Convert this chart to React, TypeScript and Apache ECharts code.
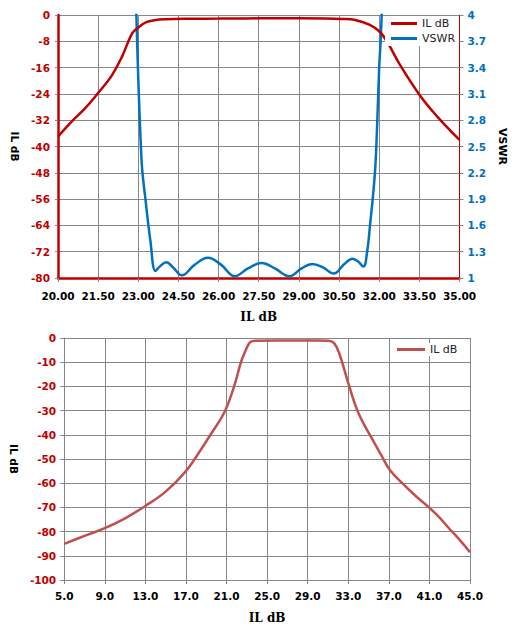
import React, { useEffect, useRef } from "react";
import * as echarts from "echarts";

// ---- Top chart data ----
const topFreq = [20.0, 20.5, 21.0, 21.5, 22.0, 22.4, 22.77, 23.0, 23.3, 23.6, 24.0, 25.0, 26.0, 27.0, 28.0, 29.0, 30.0, 30.6, 31.1, 31.65, 32.02, 32.3, 32.8, 33.55, 34.17, 35.0];
const topIL = [-37, -32.5, -28.5, -23.7, -18.5, -12.5, -5.6, -3.8, -2.2, -1.6, -1.3, -1.15, -1.1, -1.05, -1.0, -1.0, -1.05, -1.2, -1.5, -3.0, -5.1, -8.2, -15.5, -24.8, -30.9, -38];
const vswrFreq = [22.92, 23.12, 23.27, 23.45, 23.64, 23.8, 24.05, 24.3, 24.63, 25.1, 25.6, 26.1, 26.6, 27.1, 27.6, 28.1, 28.64, 29.1, 29.5, 29.9, 30.3, 30.7, 31.0, 31.2, 31.41, 31.55, 31.65, 31.84, 31.93, 32.0, 32.05, 32.1];
const vswrVal = [4.1, 2.35, 1.89, 1.43, 1.08, 1.13, 1.18, 1.12, 1.03, 1.15, 1.23, 1.15, 1.02, 1.11, 1.17, 1.11, 1.02, 1.11, 1.16, 1.12, 1.05, 1.16, 1.22, 1.19, 1.13, 1.3, 1.58, 2.2, 2.8, 3.41, 3.68, 4.05];

// ---- Bottom chart data ----
const bottomFreq = [5, 7, 9, 11, 13, 15, 17, 18.5, 19.4, 20.2, 20.9, 21.75, 22.45, 22.9, 23.2, 23.5, 24, 26, 28, 30, 31, 31.6, 32.1, 33.05, 34.0, 35.3, 36.2, 37.1, 38.5, 39.7, 40.9, 42.0, 42.9, 44.0, 45.0];
const bottomIL = [-85.1, -81.8, -78.6, -74.5, -69.4, -63.5, -55, -46, -40.1, -35, -29.8, -20, -9.7, -5.0, -2.4, -1.3, -1.1, -1.0, -1.0, -1.0, -1.1, -2.1, -6.2, -19.3, -31, -41.3, -48, -54.5, -60.7, -65.5, -69.8, -74.2, -78.5, -83.5, -88.5];

// ---- Axis settings ----
const topX = { min: 20, max: 35, step: 1.5 };
const topYLeft = { min: -80, max: 0, step: 8 };
const topYRight = { min: 1, max: 4, step: 0.3 };
const botX = { min: 5, max: 45, step: 4 };
const botY = { min: -100, max: 0, step: 10 };

const RED = "#c00000";
const BLUE = "#0070c0";
const BOT_RED = "#c0504d";
const GRID = "#868686";
const FONT = "DejaVu Sans";

export default function App() {
  const ref = useRef<HTMLDivElement>(null);
  useEffect(() => {
    if (!ref.current) return;
    const chart = echarts.init(ref.current, undefined, { renderer: "svg" });

    const labelX = { color: "#000", fontFamily: FONT, fontWeight: "bold" as const, fontSize: 10.5 };
    const nameStyleX = { color: "#000", fontFamily: "DejaVu Serif", fontWeight: "bold" as const, fontSize: 12 };
    const nameStyleY = { color: "#000", fontFamily: FONT, fontWeight: "bold" as const, fontSize: 10.5 };

    const option: any = {
      animation: false,
      backgroundColor: "#fff",
      grid: [
        { left: 58, top: 15, width: 408, height: 263 },
        { left: 57, top: 338, width: 413, height: 242 },
      ],
      legend: [
        {
          data: ["IL dB", "VSWR"],
          orient: "vertical",
          left: 385,
          top: 16,
          padding: [2, 4, 2, 6],
          itemGap: 4,
          itemWidth: 26,
          itemHeight: 3,
          icon: "rect",
          backgroundColor: "#fff",
          textStyle: { fontFamily: FONT, fontSize: 11, color: "#222" },
        },
        {
          data: ["IL dB (2)"],
          formatter: () => "IL dB",
          left: 394,
          top: 343,
          padding: [1, 3, 1, 3],
          itemWidth: 28,
          itemHeight: 3,
          icon: "rect",
          backgroundColor: "#fff",
          textStyle: { fontFamily: FONT, fontSize: 11, color: "#222" },
        },
      ],
      xAxis: [
        {
          type: "value",
          gridIndex: 0,
          min: 0,
          max: topX.max - topX.min,
          interval: topX.step,
          name: "IL dB",
          nameLocation: "middle",
          nameGap: 33,
          nameTextStyle: nameStyleX,
          axisLine: { show: true, onZero: false, lineStyle: { color: RED, width: 2.5 } },
          axisTick: { show: true, length: 4, lineStyle: { color: GRID } },
          axisLabel: { ...labelX, margin: 12, formatter: (v: number) => (v + topX.min).toFixed(2) },
          splitLine: { show: true, lineStyle: { color: GRID, width: 1 } },
        },
        {
          type: "value",
          gridIndex: 1,
          min: 0,
          max: botX.max - botX.min,
          interval: botX.step,
          name: "IL dB",
          nameLocation: "middle",
          nameGap: 32,
          nameTextStyle: nameStyleX,
          axisLine: { show: true, onZero: false, lineStyle: { color: GRID, width: 1 } },
          axisTick: { show: true, length: 4, lineStyle: { color: GRID } },
          axisLabel: { ...labelX, margin: 10, formatter: (v: number) => (v + botX.min).toFixed(1) },
          splitLine: { show: true, lineStyle: { color: GRID, width: 1 } },
        },
      ],
      yAxis: [
        {
          type: "value",
          gridIndex: 0,
          min: topYLeft.min,
          max: topYLeft.max,
          interval: topYLeft.step,
          name: "IL dB",
          nameLocation: "middle",
          nameGap: 31,
          nameRotate: -90,
          nameTextStyle: nameStyleY,
          axisLine: { show: true, onZero: false, lineStyle: { color: RED, width: 2.5 } },
          axisTick: { show: true, length: 3, lineStyle: { color: GRID } },
          axisLabel: { color: RED, fontFamily: FONT, fontWeight: "bold", fontSize: 10.5, margin: 8 },
          splitLine: { show: true, lineStyle: { color: GRID, width: 1 } },
        },
        {
          type: "value",
          gridIndex: 0,
          position: "right",
          min: 0,
          max: topYRight.max - topYRight.min,
          interval: topYRight.step,
          name: "VSWR",
          nameLocation: "middle",
          nameGap: 25,
          nameRotate: -90,
          nameTextStyle: { ...nameStyleY, fontSize: 11 },
          axisLine: { show: true, onZero: false, lineStyle: { color: RED, width: 1 } },
          axisTick: { show: true, length: 4, lineStyle: { color: GRID } },
          axisLabel: {
            color: BLUE,
            fontFamily: FONT,
            fontWeight: "bold",
            fontSize: 10.5,
            margin: 8,
            formatter: (v: number) => String(parseFloat((v + topYRight.min).toFixed(1))),
          },
          splitLine: { show: false },
        },
        {
          type: "value",
          gridIndex: 1,
          min: botY.min,
          max: botY.max,
          interval: botY.step,
          name: "IL dB",
          nameLocation: "middle",
          nameGap: 43,
          nameRotate: -90,
          nameTextStyle: nameStyleY,
          axisLine: { show: true, onZero: false, lineStyle: { color: GRID, width: 1 } },
          axisTick: { show: true, length: 4, lineStyle: { color: GRID } },
          axisLabel: { color: RED, fontFamily: FONT, fontWeight: "bold", fontSize: 10.5, margin: 8 },
          splitLine: { show: true, lineStyle: { color: GRID, width: 1 } },
        },
      ],
      series: [
        {
          name: "IL dB",
          type: "line",
          xAxisIndex: 0,
          yAxisIndex: 0,
          data: topFreq.map((f, i) => [f - topX.min, topIL[i]]),
          smooth: 0.4,
          symbol: "none",
          lineStyle: { color: RED, width: 2.5 },
          itemStyle: { color: RED },
          z: 3,
        },
        {
          name: "VSWR",
          type: "line",
          xAxisIndex: 0,
          yAxisIndex: 1,
          data: vswrFreq.map((f, i) => [f - topX.min, vswrVal[i] - topYRight.min]),
          smooth: 0.4,
          symbol: "none",
          lineStyle: { color: BLUE, width: 2.5 },
          itemStyle: { color: BLUE },
          z: 2,
        },
        {
          name: "IL dB (2)",
          type: "line",
          xAxisIndex: 1,
          yAxisIndex: 2,
          data: bottomFreq.map((f, i) => [f - botX.min, bottomIL[i]]),
          smooth: 0.4,
          symbol: "none",
          lineStyle: { color: BOT_RED, width: 2.5 },
          itemStyle: { color: BOT_RED },
        },
      ],
    };

    chart.setOption(option);
    return () => chart.dispose();
  }, []);

  return (
    <div
      ref={ref}
      style={{ position: "fixed", left: 0, top: 0, width: 516, height: 632, background: "#fff" }}
    />
  );
}
